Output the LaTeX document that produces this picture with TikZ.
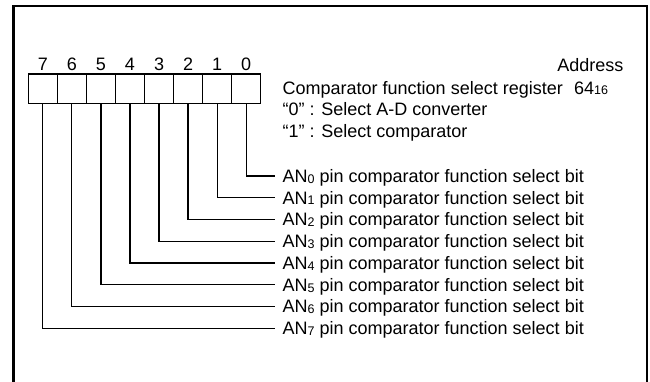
\documentclass[tikz,border=0pt]{standalone}
\usepackage{fontspec}
\setmainfont{Liberation Sans}
\newcommand{\smalldig}[1]{{\fontsize{12.5}{12}\selectfont\raisebox{-0.8pt}{#1}}}
\begin{document}
\begin{tikzpicture}[x=1pt,y=-1pt,
  font=\fontsize{18}{21}\selectfont,
  bitbox/.style={draw,line width=1.2pt,minimum width=29.05pt,minimum height=29.3pt,inner sep=0pt},
  conn/.style={line width=1.2pt},
  lbl/.style={anchor=base west,inner sep=0pt},
  frame/.style={line width=2.6pt}]
\useasboundingbox (0,0) rectangle (650,381);
\clip (0,0) rectangle (650,381);
% outer frame (open at bottom)
\coordinate (fbl) at (13.3,395);
\coordinate (ftl) at (13.3,6);
\coordinate (ftr) at (646.8,6);
\coordinate (fbr) at (646.8,395);
\draw[frame] (fbl) -- (ftl) -- (ftr) -- (fbr);
% register boxes
\foreach \i in {0,...,7}{
  \pgfmathsetmacro{\cx}{28.3+(7-\i)*29.05+14.525}
  \node[bitbox] (b\i) at (\cx,88.65) {};
  \node[anchor=base,inner sep=0pt] (d\i) at (\cx,70.5) {\i};
  \pgfmathsetmacro{\ly}{176+\i*21.76}
  \coordinate (c\i) at (275,\ly);
  \draw[conn] (b\i.south) |- (c\i);
  \node[lbl] (t\i) at (282.5,\ly+6.4) {AN\smalldig{\i} pin comparator function select bit};
}
% header texts
\node[anchor=base east,inner sep=0pt] (addr) at (623.5,71.7) {Address};
\node[lbl] (reg) at (282.5,94) {Comparator function select register};
\node[lbl] (num) at (574,94) {64\smalldig{16}};
\node[lbl] (sel0) at (282.5,115.7) {“0” : Select A-D converter};
\node[lbl] (sel1) at (282.5,137.3) {“1” : Select comparator};
\end{tikzpicture}
\end{document}
